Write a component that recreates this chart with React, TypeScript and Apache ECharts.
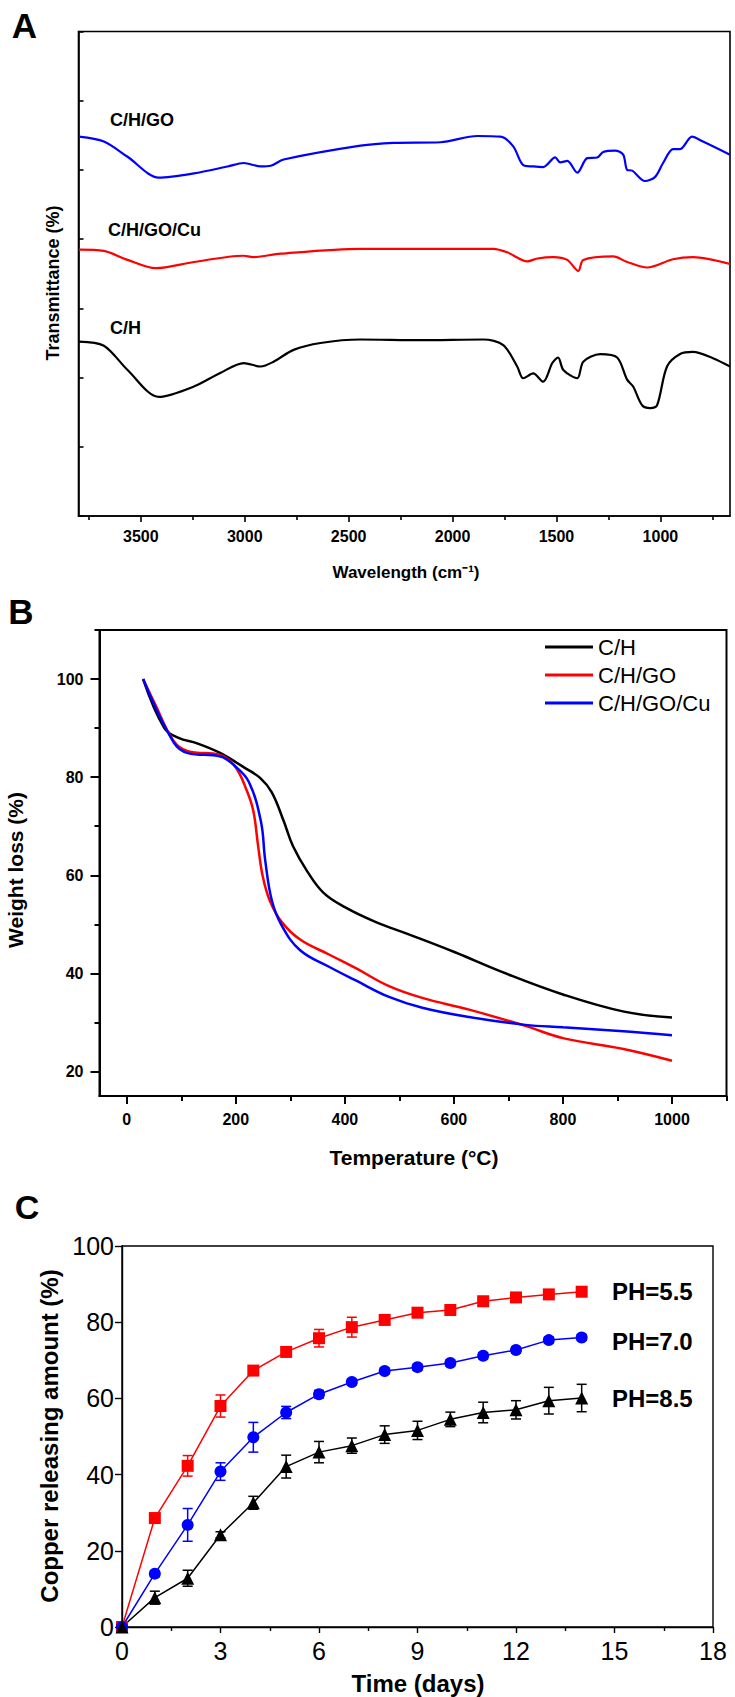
import React, { useEffect, useRef } from "react";
import * as echarts from "echarts";

const FONT = "'Liberation Sans', Arial, Helvetica, sans-serif";

// ---------- Panel A: FTIR ----------
const ftirXTicks = [1000, 1500, 2000, 2500, 3000, 3500];
const ftirXMinor = [750, 1250, 1750, 2250, 2750, 3250, 3750];
const goWave = [3798, 3678, 3564, 3414, 3245, 3082, 3005, 2923, 2875, 2813, 2443, 2284, 2058, 1881, 1770, 1708, 1660, 1612, 1564, 1506, 1482, 1448, 1400, 1352, 1304, 1275, 1218, 1179, 1160, 1136, 1074, 1025, 987, 939, 905, 848, 795, 665];
const goT = [5.48, 5.41, 5.19, 4.89, 4.95, 5.05, 5.10, 5.05, 5.06, 5.15, 5.35, 5.39, 5.40, 5.49, 5.48, 5.34, 5.07, 5.05, 5.04, 5.18, 5.11, 5.13, 4.96, 5.17, 5.18, 5.26, 5.28, 5.22, 5.00, 4.99, 4.84, 4.90, 5.10, 5.30, 5.30, 5.48, 5.41, 5.22];
const cuWave = [3798, 3678, 3564, 3428, 3245, 3005, 2962, 2827, 2443, 1804, 1737, 1640, 1592, 1515, 1448, 1395, 1371, 1227, 1160, 1064, 939, 843, 665];
const cuT = [3.85, 3.83, 3.70, 3.58, 3.67, 3.76, 3.74, 3.79, 3.86, 3.86, 3.81, 3.68, 3.72, 3.74, 3.70, 3.54, 3.70, 3.75, 3.67, 3.59, 3.71, 3.74, 3.64];
const chWave = [3798, 3678, 3564, 3413, 3245, 3116, 3005, 2923, 2861, 2765, 2635, 2443, 2155, 1852, 1756, 1689, 1660, 1612, 1564, 1520, 1492, 1467, 1400, 1371, 1290, 1208, 1160, 1131, 1088, 1049, 1016, 968, 905, 843, 747, 665];
const chT = [2.52, 2.46, 2.11, 1.72, 1.87, 2.07, 2.21, 2.16, 2.23, 2.40, 2.50, 2.55, 2.54, 2.55, 2.47, 2.16, 1.99, 2.06, 1.94, 2.21, 2.29, 2.11, 1.99, 2.23, 2.34, 2.29, 1.97, 1.87, 1.60, 1.56, 1.60, 2.16, 2.34, 2.37, 2.28, 2.16];

// ---------- Panel B: TGA ----------
const tgaXTicks = [0, 200, 400, 600, 800, 1000];
const tgaXMinor = [100, 300, 500, 700, 900, 1100];
const tgaYTicks = [20, 40, 60, 80, 100];
const tgaYMinor = [30, 50, 70, 90, 110];
const chTemp = [30, 69, 95, 129, 172, 215, 245, 266, 288, 305, 331, 361, 400, 456, 516, 602, 688, 800, 912, 1000];
const chW = [100, 90.0, 88.0, 86.9, 84.9, 82.0, 79.8, 76.9, 71.0, 65.9, 60.8, 56.4, 53.5, 50.5, 48.0, 44.3, 40.3, 35.7, 32.2, 31.0];
const goTemp = [30, 51, 86, 112, 172, 198, 219, 232, 241, 249, 262, 284, 318, 370, 421, 481, 542, 628, 731, 800, 911, 1000];
const goW = [100, 95.1, 87.4, 85.3, 84.5, 82.3, 77.6, 73.2, 65.9, 60.0, 54.9, 50.5, 46.9, 43.9, 41.0, 37.4, 35.0, 32.6, 29.3, 26.8, 24.6, 22.2];
const cuTemp = [30, 86, 112, 172, 198, 224, 246, 254, 266, 284, 318, 370, 421, 481, 542, 628, 731, 800, 911, 1000];
const cuW = [100, 87.1, 84.9, 84.2, 82.3, 79.0, 71.0, 63.0, 54.9, 49.8, 44.7, 41.4, 38.5, 35.2, 33.0, 31.1, 29.5, 29.0, 28.2, 27.4];

// ---------- Panel C: copper release ----------
const days = [0, 1, 2, 3, 4, 5, 6, 7, 8, 9, 10, 11, 12, 13, 14];
const ph55 = [0, 28.6, 42.3, 58.0, 67.3, 72.2, 75.8, 78.7, 80.6, 82.5, 83.2, 85.5, 86.5, 87.3, 88.0];
const ph55Err = [0, 0.8, 2.7, 2.9, 1.2, 1.2, 2.3, 2.6, 1.2, 0.8, 0.8, 0.9, 0.8, 0.8, 0.8];
const ph70 = [0, 14.0, 26.8, 40.8, 49.8, 56.3, 61.1, 64.3, 67.2, 68.2, 69.3, 71.2, 72.7, 75.3, 76.0];
const ph70Err = [0, 0.8, 4.3, 2.3, 3.9, 1.6, 1.0, 0.8, 0.8, 0.8, 0.8, 0.8, 0.8, 0.8, 0.8];
const ph85 = [0, 7.7, 12.8, 24.2, 32.6, 42.1, 45.9, 47.6, 50.5, 51.6, 54.5, 56.3, 57.0, 59.4, 60.1];
const ph85Err = [0, 1.7, 2.1, 0.8, 1.7, 3.0, 2.8, 2.0, 2.3, 2.4, 1.9, 2.7, 2.4, 3.5, 3.6];

const pair = (xs: number[], ys: number[]) => xs.map((x, i) => [x, ys[i]]);
const plain = (v: number) => String(v);

function errorSeries(vals: number[], errs: number[], color: string) {
  return {
    type: "custom",
    xAxisIndex: 4,
    yAxisIndex: 3,
    encode: { x: 0, y: [1, 2] },
    data: days.map((d, i) => [d, vals[i] - errs[i], vals[i] + errs[i]]),
    z: 1,
    renderItem: (params: any, api: any) => {
      const x = api.value(0);
      const p1 = api.coord([x, api.value(1)]);
      const p2 = api.coord([x, api.value(2)]);
      const hw = 5;
      const st = { stroke: color, lineWidth: 1.5 };
      return {
        type: "group",
        children: [
          { type: "line", shape: { x1: p1[0], y1: p1[1], x2: p2[0], y2: p2[1] }, style: st },
          { type: "line", shape: { x1: p1[0] - hw, y1: p1[1], x2: p1[0] + hw, y2: p1[1] }, style: st },
          { type: "line", shape: { x1: p2[0] - hw, y1: p2[1], x2: p2[0] + hw, y2: p2[1] }, style: st },
        ],
      };
    },
  };
}

function txt(text: string, x: number, y: number, size: number, weight: string, opts: any = {}) {
  const align = opts.align || "center";
  return {
    type: "text",
    x,
    y,
    rotation: opts.rotation || 0,
    style: {
      text,
      fontSize: size,
      fontWeight: weight,
      fontFamily: FONT,
      fill: "#000",
      align,
      textAlign: align,
      verticalAlign: "middle",
      textVerticalAlign: "middle",
    },
  };
}

export default function App() {
  const ref = useRef<HTMLDivElement>(null);
  useEffect(() => {
    if (!ref.current) return;
    const chart = echarts.init(ref.current, undefined, { renderer: "svg" });
    const black = "#000";
    const axisLine = (w: number) => ({ show: true, onZero: false, lineStyle: { color: black, width: w } });
    const noLine = { show: false, onZero: false };
    const boldLabel = (size: number, margin: number, custom?: number[]) => ({
      show: true,
      color: black,
      fontSize: size,
      fontWeight: "bold",
      fontFamily: FONT,
      margin,
      formatter: plain,
      ...(custom ? { customValues: custom } : {}),
    });

    const option: any = {
      animation: false,
      textStyle: { fontFamily: FONT },
      grid: [
        { left: 78.5, top: 31.5, width: 651.5, height: 484.5, show: true, borderColor: black, borderWidth: 1.6, containLabel: false },
        { left: 99.5, top: 630, width: 627, height: 466, show: true, borderColor: black, borderWidth: 2, containLabel: false },
        { left: 122, top: 1246, width: 591, height: 381, show: true, borderColor: black, borderWidth: 1.4, containLabel: false },
      ],
      xAxis: [
        {
          gridIndex: 0, type: "value", inverse: true, min: 665, max: 3800, position: "bottom",
          axisLine: axisLine(1.6), splitLine: { show: false },
          axisTick: { show: true, customValues: ftirXTicks, length: 6, lineStyle: { color: black, width: 1.6 } },
          axisLabel: boldLabel(16, 12, ftirXTicks),
        },
        {
          gridIndex: 0, type: "value", inverse: true, min: 665, max: 3800, position: "bottom",
          axisLine: noLine, splitLine: { show: false }, axisLabel: { show: false },
          axisTick: { show: true, customValues: ftirXMinor, length: 4, lineStyle: { color: black, width: 1.6 } },
        },
        {
          gridIndex: 1, type: "value", min: -50, max: 1100, position: "bottom",
          axisLine: axisLine(2), splitLine: { show: false },
          axisTick: { show: true, customValues: tgaXTicks, length: 8, lineStyle: { color: black, width: 2 } },
          axisLabel: boldLabel(16, 15, tgaXTicks),
        },
        {
          gridIndex: 1, type: "value", min: -50, max: 1100, position: "bottom",
          axisLine: noLine, splitLine: { show: false }, axisLabel: { show: false },
          axisTick: { show: true, customValues: tgaXMinor, length: 5, lineStyle: { color: black, width: 2 } },
        },
        {
          gridIndex: 2, type: "value", min: 0, max: 18, interval: 3, position: "bottom",
          axisLine: axisLine(1.4), splitLine: { show: false },
          axisTick: { show: true, length: 6, lineStyle: { color: black, width: 1.4 } },
          minorTick: { show: true, splitNumber: 2, length: 4, lineStyle: { color: black, width: 1.4 } },
          axisLabel: { show: true, color: black, fontSize: 25, fontFamily: FONT, margin: 11, formatter: plain },
        },
      ],
      yAxis: [
        {
          gridIndex: 0, type: "value", min: 0, max: 7, interval: 1, position: "left",
          axisLine: axisLine(1.6), splitLine: { show: false }, axisLabel: { show: false },
          axisTick: { show: true, inside: true, length: 5, lineStyle: { color: black, width: 1.6 } },
        },
        {
          gridIndex: 1, type: "value", min: 15, max: 110, position: "left",
          axisLine: axisLine(2), splitLine: { show: false },
          axisTick: { show: true, customValues: tgaYTicks, length: 9, lineStyle: { color: black, width: 2 } },
          axisLabel: boldLabel(16, 16, tgaYTicks),
        },
        {
          gridIndex: 1, type: "value", min: 15, max: 110, position: "left",
          axisLine: noLine, splitLine: { show: false }, axisLabel: { show: false },
          axisTick: { show: true, customValues: tgaYMinor, length: 5, lineStyle: { color: black, width: 2 } },
        },
        {
          gridIndex: 2, type: "value", min: 0, max: 100, interval: 20, position: "left",
          axisLine: axisLine(1.4), splitLine: { show: false },
          axisTick: { show: true, length: 7, lineStyle: { color: black, width: 1.4 } },
          axisLabel: { show: true, color: black, fontSize: 25, fontFamily: FONT, margin: 8, formatter: plain },
        },
      ],
      legend: {
        data: ["C/H", "C/H/GO", "C/H/GO/Cu"],
        orient: "vertical",
        left: 545,
        top: 636,
        padding: 0,
        icon: "rect",
        itemWidth: 48,
        itemHeight: 3,
        itemGap: 6,
        textStyle: { fontSize: 22, color: black, fontFamily: FONT },
      },
      series: [
        // Panel A
        { name: "FTIR C/H/GO", type: "line", xAxisIndex: 0, yAxisIndex: 0, data: pair(goWave, goT), symbol: "none", smooth: 0.3, lineStyle: { color: "#0000ff", width: 2.2 } },
        { name: "FTIR C/H/GO/Cu", type: "line", xAxisIndex: 0, yAxisIndex: 0, data: pair(cuWave, cuT), symbol: "none", smooth: 0.3, lineStyle: { color: "#ff0000", width: 2.2 } },
        { name: "FTIR C/H", type: "line", xAxisIndex: 0, yAxisIndex: 0, data: pair(chWave, chT), symbol: "none", smooth: 0.3, lineStyle: { color: black, width: 2.2 } },
        // Panel B
        { name: "C/H", type: "line", xAxisIndex: 2, yAxisIndex: 1, data: pair(chTemp, chW), symbol: "none", smooth: 0.4, color: black, lineStyle: { color: black, width: 2.5 } },
        { name: "C/H/GO", type: "line", xAxisIndex: 2, yAxisIndex: 1, data: pair(goTemp, goW), symbol: "none", smooth: 0.4, color: "#ff0000", lineStyle: { color: "#ff0000", width: 2.5 } },
        { name: "C/H/GO/Cu", type: "line", xAxisIndex: 2, yAxisIndex: 1, data: pair(cuTemp, cuW), symbol: "none", smooth: 0.4, color: "#0000ff", lineStyle: { color: "#0000ff", width: 2.5 } },
        // Panel C
        errorSeries(ph55, ph55Err, "#ff0000"),
        errorSeries(ph70, ph70Err, "#0000ff"),
        errorSeries(ph85, ph85Err, black),
        { name: "PH=5.5", type: "line", xAxisIndex: 4, yAxisIndex: 3, data: pair(days, ph55), symbol: "rect", symbolSize: 12, z: 3, color: "#ff0000", itemStyle: { color: "#ff0000" }, lineStyle: { color: "#ff0000", width: 1.5 } },
        { name: "PH=7.0", type: "line", xAxisIndex: 4, yAxisIndex: 3, data: pair(days, ph70), symbol: "circle", symbolSize: 12, z: 3, color: "#0000ff", itemStyle: { color: "#0000ff" }, lineStyle: { color: "#0000ff", width: 1.5 } },
        { name: "PH=8.5", type: "line", xAxisIndex: 4, yAxisIndex: 3, data: pair(days, ph85), symbol: "triangle", symbolSize: 13, z: 3, color: black, itemStyle: { color: black }, lineStyle: { color: black, width: 1.5 } },
      ],
      graphic: [
        txt("A", 24.5, 25, 35, "bold"),
        txt("C/H/GO", 110, 120, 18, "bold", { align: "left" }),
        txt("C/H/GO/Cu", 108, 230, 18, "bold", { align: "left" }),
        txt("C/H", 110, 328, 18, "bold", { align: "left" }),
        txt("Transmittance (%)", 53, 283, 18, "bold", { rotation: Math.PI / 2 }),
        txt("Wavelength (cm\u207B\u00B9)", 406, 572, 17, "bold"),
        txt("B", 21, 611, 35, "bold"),
        txt("Weight loss (%)", 15, 870, 21, "bold", { rotation: Math.PI / 2 }),
        txt("Temperature (\u00B0C)", 414, 1157, 21, "bold"),
        txt("C", 27, 1207, 34, "bold"),
        txt("Copper releasing amount (%)", 49, 1436, 24, "bold", { rotation: Math.PI / 2 }),
        txt("Time (days)", 418, 1683, 24, "bold"),
        txt("PH=5.5", 612, 1291, 24, "bold", { align: "left" }),
        txt("PH=7.0", 612, 1341, 24, "bold", { align: "left" }),
        txt("PH=8.5", 612, 1398, 24, "bold", { align: "left" }),
      ],
    };
    chart.setOption(option);
    return () => chart.dispose();
  }, []);
  return <div ref={ref} style={{ position: "absolute", left: 0, top: 0, width: 735, height: 1697 }} />;
}
